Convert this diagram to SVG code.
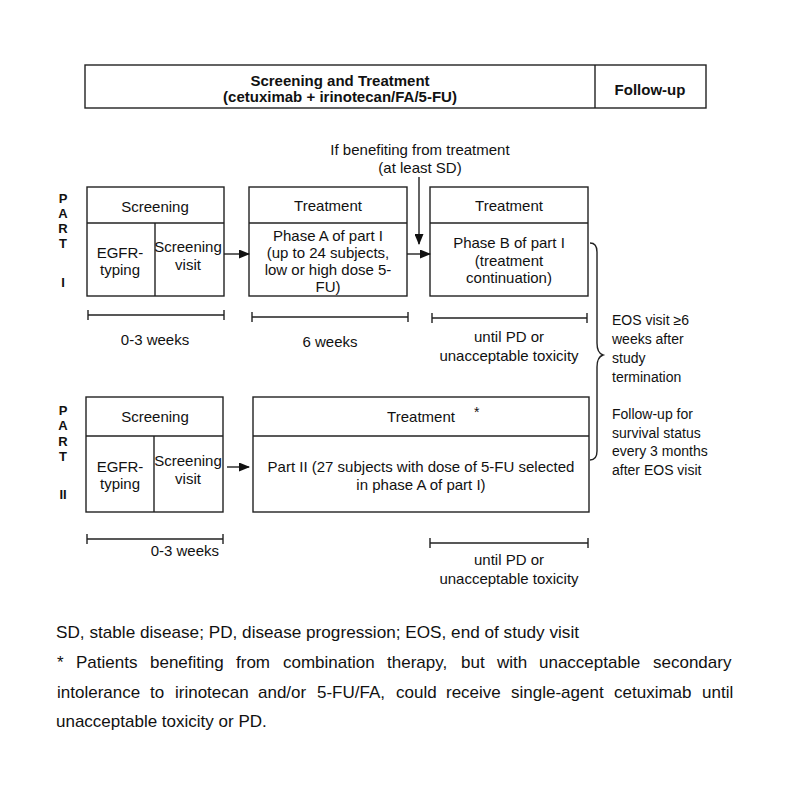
<svg xmlns="http://www.w3.org/2000/svg" width="785" height="785" viewBox="0 0 785 785">
<defs>
<marker id="ah" markerWidth="11" markerHeight="9" refX="10" refY="4.5" orient="auto" markerUnits="userSpaceOnUse"><path d="M0,0 L11,4.5 L0,9 Z" fill="#111"/></marker>
<style>
text{font-family:"Liberation Sans",Arial,sans-serif;fill:#111;}
.t{font-size:15px;text-anchor:middle;}
.b{font-weight:bold;}
.l{font-size:14px;}
.part{font-size:13px;font-weight:bold;text-anchor:middle;}
.box{fill:none;stroke:#222;stroke-width:1.4;}
.ln{fill:none;stroke:#222;stroke-width:1.4;}
.foot{font-size:17px;}
</style>
</defs>
<rect width="785" height="785" fill="#fff"/>

<g id="banner">
<rect class="box" x="85" y="65" width="621" height="43"/>
<line class="ln" x1="595" y1="65" x2="595" y2="108"/>
<text class="t b" x="340" y="86">Screening and Treatment</text>
<text class="t b" x="340" y="102">(cetuximab + irinotecan/FA/5-FU)</text>
<text class="t b" x="650" y="95">Follow-up</text>
</g>

<g id="part1-label">
<text class="part" x="63" y="203">P</text>
<text class="part" x="63" y="218">A</text>
<text class="part" x="63" y="233">R</text>
<text class="part" x="63" y="248">T</text>
<text class="part" x="63" y="287">I</text>
</g>

<g id="p1-screening">
<rect class="box" x="87" y="187" width="137" height="109"/>
<line class="ln" x1="87" y1="223" x2="224" y2="223"/>
<line class="ln" x1="155" y1="223" x2="155" y2="296"/>
<text class="t" x="155" y="212">Screening</text>
<text class="t" x="120" y="258">EGFR-</text>
<text class="t" x="120" y="275">typing</text>
<text class="t" x="188" y="252">Screening</text>
<text class="t" x="188" y="270">visit</text>
</g>

<g id="p1-phaseA">
<rect class="box" x="249" y="187" width="158" height="109"/>
<line class="ln" x1="249" y1="223" x2="407" y2="223"/>
<text class="t" x="328" y="211">Treatment</text>
<text class="t" x="328" y="241">Phase A of part I</text>
<text class="t" x="328" y="258">(up to 24 subjects,</text>
<text class="t" x="328" y="275">low or high dose 5-</text>
<text class="t" x="328" y="292">FU)</text>
</g>

<g id="p1-phaseB">
<rect class="box" x="430" y="187" width="158" height="109"/>
<line class="ln" x1="430" y1="223" x2="588" y2="223"/>
<text class="t" x="509" y="211">Treatment</text>
<text class="t" x="509" y="248">Phase B of part I</text>
<text class="t" x="509" y="266">(treatment</text>
<text class="t" x="509" y="283">continuation)</text>
</g>

<g id="benefit-note">
<text class="t" x="420" y="155">If benefiting from treatment</text>
<text class="t" x="420" y="173">(at least SD)</text>
</g>

<g id="part2-label">
<text class="part" x="63" y="415">P</text>
<text class="part" x="63" y="430">A</text>
<text class="part" x="63" y="446">R</text>
<text class="part" x="63" y="461">T</text>
<text class="part" x="63" y="499">II</text>
</g>

<g id="p2-screening">
<rect class="box" x="86" y="397" width="137" height="115"/>
<line class="ln" x1="86" y1="436" x2="223" y2="436"/>
<line class="ln" x1="154" y1="436" x2="154" y2="512"/>
<text class="t" x="155" y="422">Screening</text>
<text class="t" x="120" y="472">EGFR-</text>
<text class="t" x="120" y="489">typing</text>
<text class="t" x="188" y="466">Screening</text>
<text class="t" x="188" y="484">visit</text>
</g>

<g id="p2-treatment">
<rect class="box" x="253" y="397" width="336" height="115"/>
<line class="ln" x1="253" y1="436" x2="589" y2="436"/>
<text class="t" x="421" y="422">Treatment</text>
<text class="l" x="474" y="417">*</text>
<text class="t" x="421" y="472">Part II (27 subjects with dose of 5-FU selected</text>
<text class="t" x="421" y="490">in phase A of part I)</text>
</g>

<g id="eos">
<text class="l" x="612" y="325">EOS visit ≥6</text>
<text class="l" x="612" y="344">weeks after</text>
<text class="l" x="612" y="363">study</text>
<text class="l" x="612" y="382">termination</text>
<text class="l" x="612" y="419">Follow-up for</text>
<text class="l" x="612" y="438">survival status</text>
<text class="l" x="612" y="456">every 3 months</text>
<text class="l" x="612" y="475">after EOS visit</text>
</g>

<g id="durations">
<text class="t" x="155" y="345">0-3 weeks</text>
<text class="t" x="330" y="347">6 weeks</text>
<text class="t" x="509" y="342">until PD or</text>
<text class="t" x="509" y="361">unacceptable toxicity</text>
<text class="t" x="219" y="556" text-anchor="end" style="text-anchor:end">0-3 weeks</text>
<text class="t" x="509" y="565">until PD or</text>
<text class="t" x="509" y="584">unacceptable toxicity</text>
</g>

<g id="connectors">
<line class="ln" x1="224" y1="254" x2="249" y2="254" marker-end="url(#ah)"/>
<line class="ln" x1="407" y1="254" x2="430" y2="254" marker-end="url(#ah)"/>
<line class="ln" x1="419" y1="177" x2="419" y2="244" marker-end="url(#ah)"/>
<line class="ln" x1="227" y1="467" x2="249" y2="467" marker-end="url(#ah)"/>
<path class="ln" d="M88,315 H224 M88,310 V320 M224,310 V320"/>
<path class="ln" d="M252,317 H408 M252,312 V322 M408,312 V322"/>
<path class="ln" d="M432,318 H587 M432,313 V323 M587,313 V323"/>
<path class="ln" d="M87,539 H223 M87,534 V544 M223,534 V544"/>
<path class="ln" d="M430,543 H588 M430,538 V548 M588,538 V548"/>
<path class="ln" d="M590,243 Q597,243 597,252 V343 Q597,353 603,355 Q597,357 597,367 V451 Q597,460 590,460"/>
</g>

<g id="footnote">
<text class="foot" x="56" y="638" textLength="523" lengthAdjust="spacingAndGlyphs">SD, stable disease; PD, disease progression; EOS, end of study visit</text>
<text class="foot" y="668"><tspan x="57">*</tspan><tspan x="76">Patients</tspan><tspan x="150">benefiting</tspan><tspan x="236">from</tspan><tspan x="283">combination</tspan><tspan x="387">therapy,</tspan><tspan x="461">but</tspan><tspan x="497">with</tspan><tspan x="539">unacceptable</tspan><tspan x="653">secondary</tspan></text>
<text class="foot" y="698"><tspan x="57">intolerance</tspan><tspan x="150">to</tspan><tspan x="175">irinotecan</tspan><tspan x="258">and/or</tspan><tspan x="317">5-FU/FA,</tspan><tspan x="396">could</tspan><tspan x="446">receive</tspan><tspan x="511">single-agent</tspan><tspan x="614">cetuximab</tspan><tspan x="702">until</tspan></text>
<text class="foot" x="56" y="727">unacceptable toxicity or PD.</text>
</g>
</svg>
